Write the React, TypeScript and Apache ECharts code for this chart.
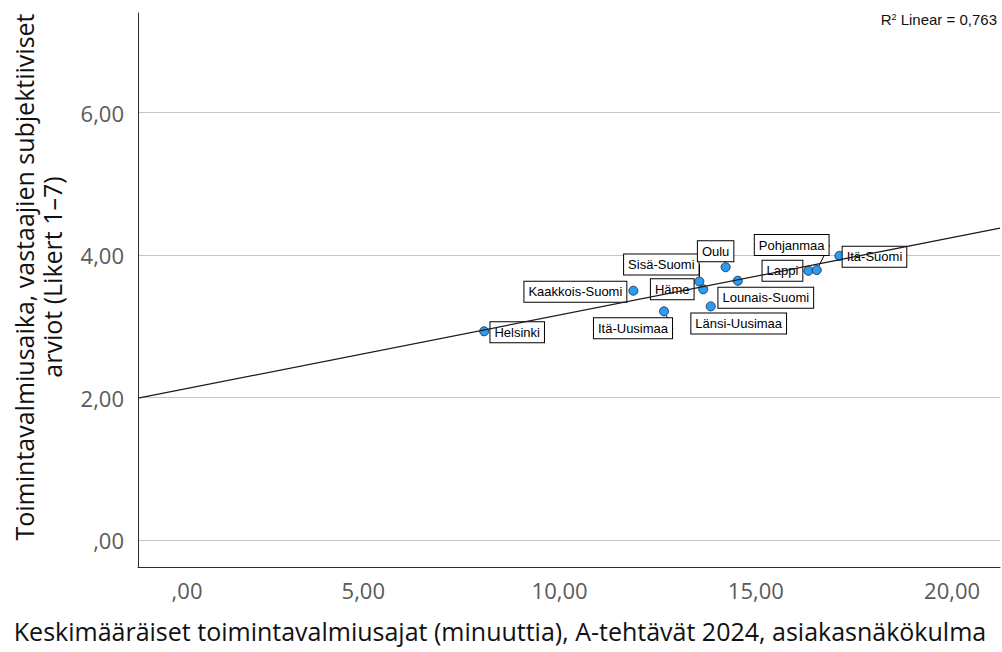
import React, { useEffect, useRef } from "react";
import * as echarts from "echarts";

const regionNames = [
  "Helsinki",
  "Kaakkois-Suomi",
  "Itä-Uusimaa",
  "Sisä-Suomi",
  "Häme",
  "Oulu",
  "Lounais-Suomi",
  "Länsi-Uusimaa",
  "Lappi",
  "Pohjanmaa",
  "Itä-Suomi",
];
const responseTimes = [8.08, 11.88, 12.66, 13.56, 13.66, 14.23, 14.54, 13.85, 16.34, 16.55, 17.13];
const likertScores = [2.93, 3.5, 3.21, 3.63, 3.52, 3.83, 3.64, 3.28, 3.78, 3.79, 3.99];

const fitX = [-0.74, 21.22];
const fitY = [1.99, 4.38];

const xTickValues = [0, 5, 10, 15, 20];
const xTickLabels = [",00", "5,00", "10,00", "15,00", "20,00"];
const yTickValues = [0, 2, 4, 6];
const yTickLabels = [",00", "2,00", "4,00", "6,00"];

const xTitle = "Keskimääräiset toimintavalmiusajat (minuuttia), A-tehtävät 2024, asiakasnäkökulma";
const yTitle = "Toimintavalmiusaika, vastaajien subjektiiviset\narviot (Likert 1–7)";
const rSquaredText = "R{sup|2} Linear = 0,763";

// label box centre offsets from each dot (layout only)
const labelOffsets: number[][] = [
  [33, 1],
  [-58, 1],
  [-31, 17],
  [-38, -17],
  [-31, 0],
  [-10, -16],
  [28, 17],
  [28, 17],
  [-26, 0],
  [-25, -25],
  [35, 1],
];
const leaderLineRegions = ["Itä-Uusimaa", "Sisä-Suomi", "Pohjanmaa"];

export default function App() {
  const ref = useRef<HTMLDivElement>(null);
  useEffect(() => {
    if (!ref.current) return;
    const chart = echarts.init(ref.current, null, { renderer: "svg" });
    const tickFont = "'Open Sans', 'Noto Sans', sans-serif";
    const scatterData = regionNames.map((name, i) => ({
      name,
      value: [responseTimes[i], likertScores[i]],
      labelLine: { show: leaderLineRegions.includes(name) },
    }));
    chart.setOption({
      animation: false,
      backgroundColor: "#fff",
      grid: { left: 138, top: 13, width: 862, height: 554, outerBoundsMode: "none" },
      xAxis: {
        type: "value",
        min: -0.74,
        max: 21.22,
        name: xTitle,
        nameLocation: "middle",
        nameGap: 51,
        nameTextStyle: {
          fontSize: 25,
          color: "#111",
          fontFamily: tickFont,
          padding: [0, 138, 0, 0],
        },
        axisLine: { show: true, onZero: false, lineStyle: { color: "#2b2b2b", width: 1 } },
        axisTick: { show: false },
        splitLine: { show: false },
        axisLabel: {
          showMinLabel: false,
          showMaxLabel: false,
          margin: 12,
          fontSize: 22,
          color: "#5a5a5a",
          fontFamily: tickFont,
          formatter: (v: number) => {
            const i = xTickValues.findIndex((t) => Math.abs(t - v) < 1e-6);
            if (i < 0) return "";
            return v === 0 ? "{z|" + xTickLabels[i] + "}" : xTickLabels[i];
          },
          rich: {
            z: { fontSize: 22, color: "#5a5a5a", fontFamily: tickFont, padding: [0, 0, 0, 40] },
          },
        },
      },
      yAxis: {
        type: "value",
        min: -0.38,
        max: 7.4,
        name: yTitle,
        nameLocation: "middle",
        nameGap: 72,
        nameTextStyle: {
          fontSize: 25,
          lineHeight: 28,
          color: "#111",
          fontFamily: tickFont,
          align: "center",
          padding: [0, 0, 0, 26],
        },
        axisLine: { show: true, onZero: false, lineStyle: { color: "#2b2b2b", width: 1 } },
        axisTick: { show: false },
        splitLine: {
          show: true,
          showMinLine: false,
          showMaxLine: false,
          lineStyle: { color: "#c4c4c4", width: 1 },
        },
        axisLabel: {
          showMinLabel: false,
          showMaxLabel: false,
          margin: 14,
          fontSize: 22,
          color: "#5a5a5a",
          fontFamily: tickFont,
          formatter: (v: number) => {
            const i = yTickValues.findIndex((t) => Math.abs(t - v) < 1e-6);
            return i < 0 ? "" : yTickLabels[i];
          },
        },
      },
      graphic: [
        {
          type: "text",
          right: 5,
          top: 12,
          style: {
            text: rSquaredText,
            fontSize: 15,
            fontFamily: "'Liberation Sans Narrow', 'Liberation Sans', sans-serif",
            fill: "#111",
            rich: {
              sup: {
                fontSize: 9,
                verticalAlign: "top",
                fontFamily: "'Liberation Sans Narrow', 'Liberation Sans', sans-serif",
                fill: "#111",
                padding: [0, 0, 6, 0],
              },
            },
          },
        },
      ],
      series: [
        {
          type: "scatter",
          z: 2,
          symbol: "circle",
          symbolSize: 9,
          itemStyle: { color: "#2b9cf0", borderColor: "#1c3f6e", borderWidth: 1, opacity: 1 },
          data: scatterData,
          label: {
            show: true,
            formatter: "{b}",
            fontFamily: "'Liberation Sans', Arial, sans-serif",
            fontSize: 13,
            lineHeight: 16,
            color: "#000",
            backgroundColor: "#fff",
            borderColor: "#000",
            borderWidth: 1,
            padding: [2, 4, 2, 4],
          },
          labelLine: { show: false, lineStyle: { color: "#000", width: 1 } },
          labelLayout: (p: any) => {
            const o = labelOffsets[p.dataIndex];
            return {
              x: p.rect.x + p.rect.width / 2 + o[0],
              y: p.rect.y + p.rect.height / 2 + o[1],
              align: "center",
              verticalAlign: "middle",
            };
          },
        },
        {
          type: "line",
          z: 5,
          symbol: "none",
          silent: true,
          data: fitX.map((x, i) => [x, fitY[i]]),
          lineStyle: { color: "#1a1a1a", width: 1.3 },
        },
      ],
    });
    return () => chart.dispose();
  }, []);
  return (
    <div
      ref={ref}
      style={{ position: "fixed", left: 0, top: 0, width: 1002, height: 652, background: "#fff" }}
    />
  );
}
